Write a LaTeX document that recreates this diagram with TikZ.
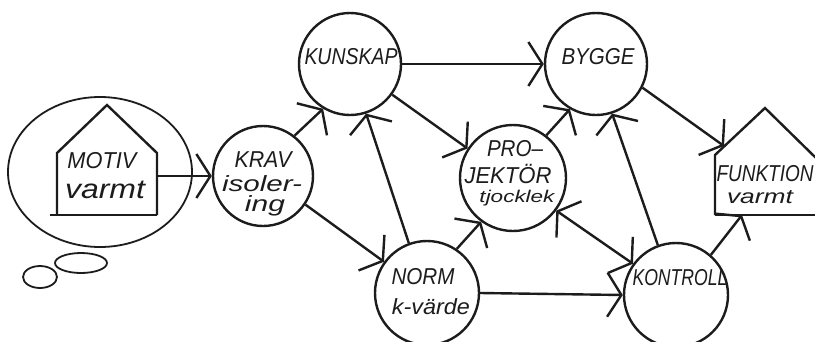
\documentclass[tikz,border=0pt]{standalone}
\usepackage{fontspec}
\setmainfont{Liberation Sans}
\usetikzlibrary{arrows.meta}
\definecolor{inkc}{HTML}{1C1C1C}
\newcommand\hw[2]{\resizebox{#1pt}{\height}{#2}}
\begin{document}
\begin{tikzpicture}[x=1pt,y=-1pt,
  ink/.style={draw=inkc, line width=2.4pt},
  circ/.style={ink, circle, minimum size=#1pt, inner sep=0pt},
  lbl/.style={inner sep=0pt, anchor=base, font=\fontsize{23}{23}\selectfont\itshape, text=inkc},
  lbs/.style={inner sep=0pt, anchor=base, font=\fontsize{#1}{#1}\selectfont\itshape, text=inkc},
  arr/.style={ink, -{Straight Barb[length=14pt,width=44pt]}},
  dbl/.style={ink, {Straight Barb[length=14pt,width=44pt]}-{Straight Barb[length=14pt,width=44pt]}},
]
\clip (0,0) rectangle (815,341);
\fill[white] (0,0) rectangle (815,341);

% thought cloud
\draw[ink, line width=1.8pt] (100,172) ellipse [x radius=92pt, y radius=75pt];
\draw[ink, line width=1.8pt] (81,263) ellipse [x radius=26pt, y radius=10pt];
\draw[ink, line width=1.8pt] (40,277) ellipse [x radius=17pt, y radius=11pt];

% MOTIV house
\draw[ink, line join=miter] (57,215) -- (57,153) -- (107,105) -- (157,153) -- (157,215);
\draw[ink] (50,215) -- (157,215);
\coordinate (mR) at (157,176);
\node[lbl] (tMotiv) at (102,168) {\hw{69}{MOTIV}};
\node[lbs=27] (tVarmt1) at (105,198) {\hw{80}{varmt}};

% FUNKTION house
\draw[ink, line join=miter] (715,215) -- (715,155) -- (765,108) -- (816,158);
\draw[ink] (715,215) -- (816,215);
\coordinate (fA) at (724,146);
\coordinate (fB) at (742,215);
\node[lbl] (tFunk) at (765,181) {\hw{97}{FUNKTION}};
\node[lbs=20] (tVarmt2) at (760,203) {\hw{66}{varmt}};

% circles
\node[circ=100] (krav) at (263,176) {};
\node[circ=102] (kunskap) at (350,64) {};
\node[circ=102] (bygge) at (596,64) {};
\node[circ=106] (proj) at (513,178) {};
\node[circ=104] (norm) at (427,293) {};
\node[circ=104] (kontroll) at (676,295) {};

% labels
\node[lbl] (tKrav) at (263,167) {\hw{57}{KRAV}};
\node[lbs=22] (tIsol) at (262,191) {\hw{80}{isoler-}};
\node[lbs=22] (tIng) at (265,211) {\hw{40}{ing}};
\node[lbl] (tKunskap) at (351,64) {\hw{93}{KUNSKAP}};
\node[lbl] (tBygge) at (598,64) {\hw{73}{BYGGE}};
\node[lbl] (tPro) at (515,156) {\hw{56}{PRO–}};
\node[lbl] (tJek) at (508,183) {\hw{87}{JEKTÖR}};
\node[lbs=17] (tTjock) at (517,202) {\hw{75}{tjocklek}};
\node[lbl] (tNorm) at (423,284) {\hw{63}{NORM}};
\node[lbs=22] (tKv) at (431,314) {\hw{78}{k-värde}};
\node[lbl] (tKontroll) at (680,285) {\hw{95}{KONTROLL}};

% connectors
\draw[arr] (mR) -- (krav.west);
\draw[arr] (krav.52) -- (kunskap.239);
\draw[arr] (krav.326) -- (norm.144);
\draw[arr] (norm.110) -- (kunskap.288);
\draw[arr] (kunskap.east) -- (bygge.west);
\draw[arr] (kunskap.324) -- (proj.147);
\draw[arr] (norm.56) -- (proj.234);
\draw[arr] (norm.east) -- (kontroll.west);
\draw[arr] (proj.52) -- (bygge.240);
\draw[arr] (kontroll.110) -- (bygge.288);
\draw[dbl] (proj.323) -- (kontroll.144);
\draw[arr] (bygge.333) -- (fA);
\draw[arr] (kontroll.49) -- (fB);
\end{tikzpicture}
\end{document}
